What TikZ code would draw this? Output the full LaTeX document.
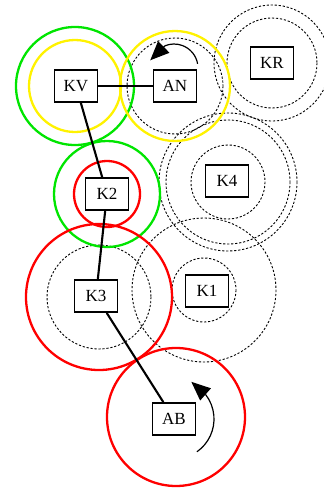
\documentclass[tikz,border=0pt]{standalone}
\usepackage{fontspec}
\setmainfont{Liberation Serif}
\usetikzlibrary{arrows.meta}
\begin{document}
\begin{tikzpicture}[x=1pt,y=-1pt,
  box/.style={draw,line width=1.7pt,minimum width=43pt,minimum height=32pt,inner sep=0pt,font=\fontsize{17}{17}\selectfont,fill=white},
  link/.style={line width=2.1pt},
  dcirc/.style={draw,line width=0.9pt,dash pattern=on 2.2pt off 1.8pt},
  gcirc/.style={draw=green!90!black,line width=2.3pt},
  ycirc/.style={draw=yellow,line width=2.3pt},
  rcirc/.style={draw=red,line width=2.3pt},
  turn/.style={line width=1.2pt},
  turntip/.style={line width=1.2pt,-{Triangle[length=19pt,width=16pt]}}]
\useasboundingbox (0,0) rectangle (324,488);
% circles
\coordinate (cKV) at (75,86);
\coordinate (cAN) at (175,86);
\coordinate (cKR) at (272,63);
\coordinate (cK2) at (107,194);
\coordinate (cK4) at (228,182);
\coordinate (cK3) at (99,297);
\coordinate (cK1) at (204,290);
\coordinate (cAB) at (176,417);
\draw[dcirc] (cKR) circle[radius=58];
\draw[dcirc] (cKR) circle[radius=45];
\draw[dcirc] (cK4) circle[radius=69];
\draw[dcirc] (cK4) circle[radius=62];
\draw[dcirc] (cK4) circle[radius=37];
\draw[dcirc] (cK1) circle[radius=72];
\draw[dcirc] (cK1) circle[radius=32];
\draw[dcirc] (cK3) circle[radius=52];
\draw[dcirc] (cAN) circle[radius=48];
\draw[gcirc] (cKV) circle[radius=59];
\draw[ycirc] (cKV) circle[radius=46];
\draw[ycirc] (cAN) circle[radius=55];
\draw[gcirc] (cK2) circle[radius=53];
\draw[rcirc] (cK2) circle[radius=33];
\draw[rcirc] (cK3) circle[radius=73];
\draw[rcirc] (cAB) circle[radius=69];
% nodes
\node[box] (KV) at (76,86) {KV};
\node[box] (AN) at (175,86) {AN};
\node[box] (KR) at (272,63) {KR};
\node[box] (K2) at (107,194) {K2};
\node[box] (K4) at (227,181) {K4};
\node[box] (K3) at (96,296) {K3};
\node[box] (K1) at (207,291) {K1};
\node[box] (AB) at (174,419) {AB};
% links
\draw[link] (KV) -- (AN);
\draw[link] (KV) -- (K2);
\draw[link] (K2) -- (K3);
\draw[link] (K3) -- (AB);
% turning arrows
\coordinate (oAN) at (174,68);
\coordinate (sAN) at ([shift={(-10:24)}]oAN);
\coordinate (bAN) at ([shift={(-112:24)}]oAN);
\coordinate (eAN) at ([shift={(-162:25)}]oAN);
\draw[turn] (sAN) arc[start angle=-10,end angle=-112,radius=24];
\draw[turntip] (bAN) -- (eAN);
\coordinate (oAB) at (174,419);
\coordinate (sAB) at ([shift={(55:40)}]oAB);
\coordinate (bAB) at ([shift={(-38:40)}]oAB);
\coordinate (eAB) at ([shift={(-65:41)}]oAB);
\draw[turn] (sAB) arc[start angle=55,end angle=-38,radius=40];
\draw[turntip] (bAB) -- (eAB);
\end{tikzpicture}
\end{document}
